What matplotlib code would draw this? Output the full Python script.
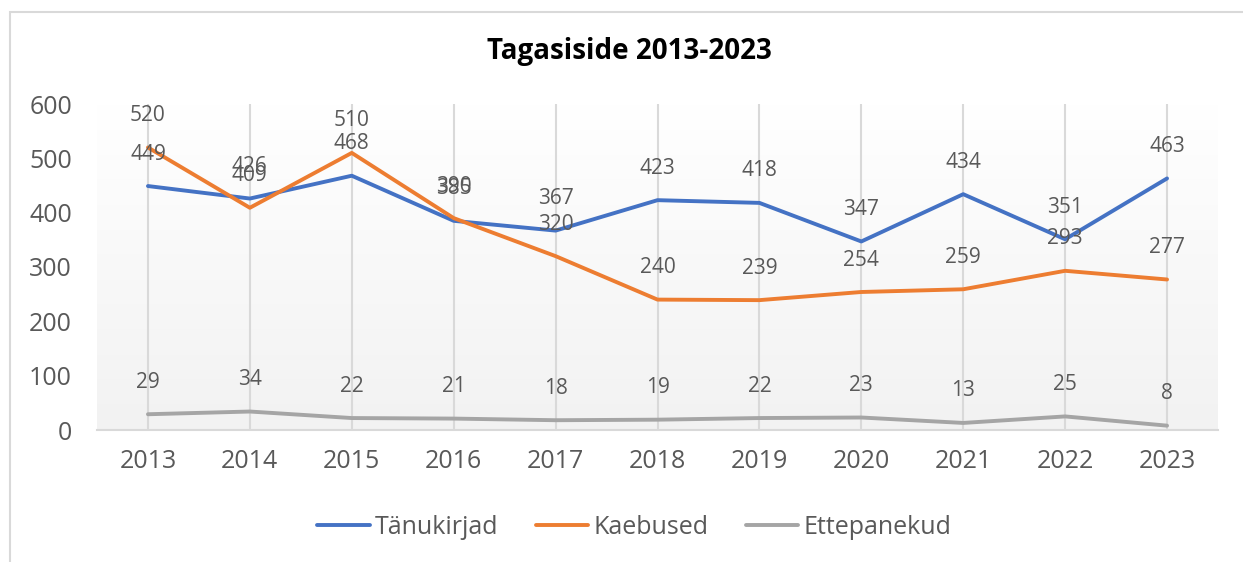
import numpy as np
import matplotlib.pyplot as plt
from matplotlib.patches import Rectangle

plt.rcParams['font.family'] = ['Open Sans', 'DejaVu Sans']

years = ['2013', '2014', '2015', '2016', '2017', '2018', '2019', '2020', '2021', '2022', '2023']
tanukirjad = [449, 426, 468, 385, 367, 423, 418, 347, 434, 351, 463]
kaebused = [520, 409, 510, 390, 320, 240, 239, 254, 259, 293, 277]
ettepanekud = [29, 34, 22, 21, 18, 19, 22, 23, 13, 25, 8]

series = [
    ('Tänukirjad', tanukirjad, '#4472C4'),
    ('Kaebused', kaebused, '#ED7D31'),
    ('Ettepanekud', ettepanekud, '#A5A5A5'),
]

txt = '#595959'
fig = plt.figure(figsize=(12.43, 5.62), dpi=100)
fig.patches.append(Rectangle((10 / 1243, -0.1), 1.2, (562 - 12) / 562 + 0.1,
                             transform=fig.transFigure, fill=False,
                             edgecolor='#d9d9d9', linewidth=1.5))
ax = fig.add_axes([97 / 1243, (562 - 430) / 562, (1218 - 97) / 1243, (430 - 104) / 562])

x = np.arange(len(years))

# gradient background of plot area
grad = np.linspace(0, 1, 256).reshape(-1, 1)
ax.imshow(grad, extent=(0, 1, 0, 1), transform=ax.transAxes, aspect='auto',
          cmap=plt.matplotlib.colors.LinearSegmentedColormap.from_list('g', ['#f2f2f2', '#ffffff']),
          origin='lower', zorder=0)

for xi in x:
    ax.axvline(xi, color='#d9d9d9', linewidth=1.5, zorder=1)

for name, vals, col in series:
    ax.plot(x, vals, color=col, linewidth=2.8, label=name, zorder=3, solid_capstyle='round')
    for xi, v in zip(x, vals):
        ax.annotate(str(v), (xi, v), xytext=(0, 23), textcoords='offset points',
                    ha='center', va='center', fontsize=15, color=txt, zorder=4)

ax.set_xlim(-0.5, len(years) - 0.5)
ax.set_ylim(0, 600)
ax.set_yticks(range(0, 601, 100))
ax.set_xticks(x)
ax.set_xticklabels(years)
ax.tick_params(axis='both', length=0, labelsize=18, labelcolor=txt)
ax.tick_params(axis='x', pad=14)
ax.tick_params(axis='y', pad=18)
for s in ['top', 'right', 'left']:
    ax.spines[s].set_visible(False)
ax.spines['bottom'].set_color('#d9d9d9')
ax.spines['bottom'].set_linewidth(1.5)

fig.text(629 / 1243, 1 - 52 / 562, 'Tagasiside 2013-2023', ha='center', va='center',
         fontsize=20, fontweight='bold', color='black')

fig.legend(loc='center', bbox_to_anchor=(634 / 1243, 1 - 527 / 562), ncol=3,
           frameon=False, fontsize=18, labelcolor=txt, handlelength=2.1,
           columnspacing=1.5, handletextpad=0.2)

fig.savefig('out.png', dpi=100)
